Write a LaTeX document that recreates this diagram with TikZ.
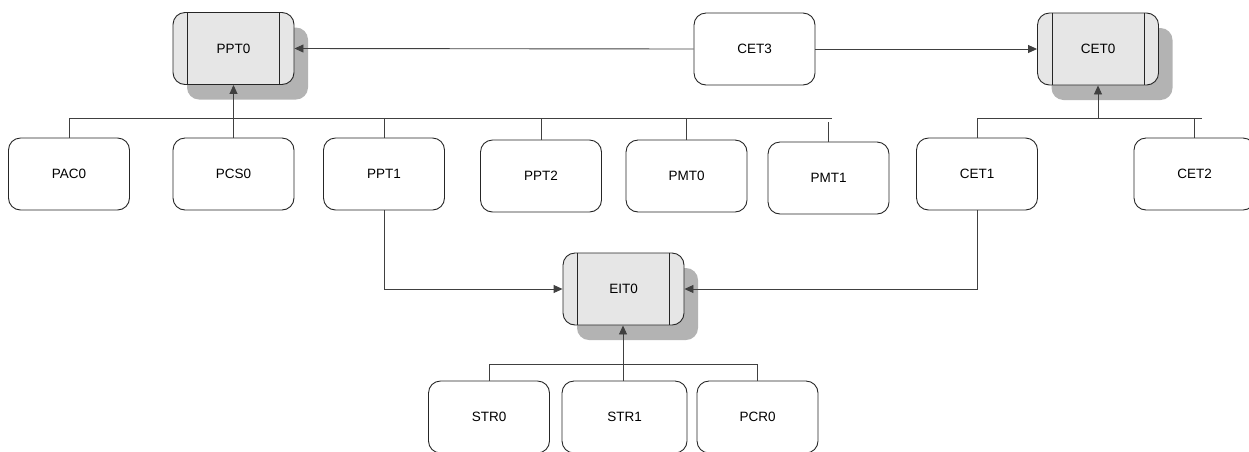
\documentclass[tikz,border=0pt]{standalone}
\usepackage{fontspec}
\setmainfont{Liberation Sans}
\usetikzlibrary{arrows.meta,shadows}
\definecolor{linec}{HTML}{404040}
\definecolor{boxc}{HTML}{262626}
\definecolor{shadec}{HTML}{E6E6E6}
\definecolor{shadowc}{HTML}{B3B3B3}
\tikzset{
  box/.style={draw=boxc, line width=0.9pt, rounded corners=12pt, minimum width=121pt, minimum height=72pt, inner sep=0pt, fill=white, font=\fontsize{13.5}{16}\selectfont},
  mainbox/.style={box, fill=shadec, general shadow={fill=shadowc, shadow xshift=14pt, shadow yshift=-15pt}},
  conn/.style={draw=linec, line width=0.9pt},
  arr/.style={conn, -{Triangle[length=9pt,width=8pt]}},
}
\newcommand{\innerlines}[1]{%
  \draw[boxc, line width=0.9pt] ([xshift=15pt]#1.north west) -- ([xshift=15pt]#1.south west);
  \draw[boxc, line width=0.9pt] ([xshift=-15pt]#1.north east) -- ([xshift=-15pt]#1.south east);}
\begin{document}
\begin{tikzpicture}[x=1pt,y=-1pt]
\useasboundingbox (0,0) rectangle (1249,451);
\clip (0,0) rectangle (1249,451);
% main boxes
\node[mainbox] (PPT0) at (233.5,48.5) {PPT0};
\node[mainbox] (CET0) at (1098,49) {CET0};
\node[mainbox] (EIT0) at (623.5,289) {EIT0};
\innerlines{PPT0}
\innerlines{CET0}
\innerlines{EIT0}
\node[box] (CET3) at (754.5,49) {CET3};
% middle row
\node[box] (PAC0) at (69,174) {PAC0};
\node[box] (PCS0) at (233.5,174) {PCS0};
\node[box] (PPT1) at (384,174) {PPT1};
\node[box] (PPT2) at (541,176) {PPT2};
\node[box] (PMT0) at (686.5,176) {PMT0};
\node[box] (PMT1) at (828.5,178) {PMT1};
\node[box] (CET1) at (977,174) {CET1};
\node[box] (CET2) at (1194.5,174) {CET2};
% bottom row
\node[box] (STR0) at (489,417) {STR0};
\node[box, minimum width=125pt] (STR1) at (624.5,417) {STR1};
\node[box] (PCR0) at (757.5,417) {PCR0};
% CET3 arrows
\draw[arr] (CET3.west) -- (PPT0.east);
\draw[arr] (CET3.east) -- (CET0.west);
% P bus
\coordinate (pbl) at (69,118.5);
\coordinate (pbr) at (832,118.5);
\draw[conn] (pbl) -- (pbr);
\draw[conn] (PAC0.north) -- (PAC0.north |- pbl);
\draw[conn] (PPT1.north) -- (PPT1.north |- pbl);
\draw[conn] (PPT2.north) -- (PPT2.north |- pbl);
\draw[conn] (PMT0.north) -- (PMT0.north |- pbl);
\draw[conn] (PMT1.north) -- ++(0,-20);
\draw[arr] (PCS0.north) -- (PCS0.north |- PPT0.south);
% CET bus
\coordinate (cbl) at (977,118.5);
\coordinate (cbr) at (1202,118.5);
\draw[conn] (cbl) -- (cbr);
\draw[conn] (CET1.north) -- (CET1.north |- cbl);
\draw[conn] (CET2.north) -- (CET2.north |- cbl);
\draw[arr] (CET0.south |- cbl) -- (CET0.south);
% to EIT0
\draw[arr] (PPT1.south) |- (EIT0.west);
\draw[arr] (CET1.south) |- (EIT0.east);
% bottom bus
\coordinate (bbl) at (489,364);
\coordinate (bbr) at (758,364);
\coordinate (bstart) at (623,381);
\draw[conn] (STR0.north) -- (STR0.north |- bbl) -- (PCR0.north |- bbr) -- (PCR0.north);
\draw[arr] (bstart) -- (bstart |- EIT0.south);
\end{tikzpicture}
\end{document}
